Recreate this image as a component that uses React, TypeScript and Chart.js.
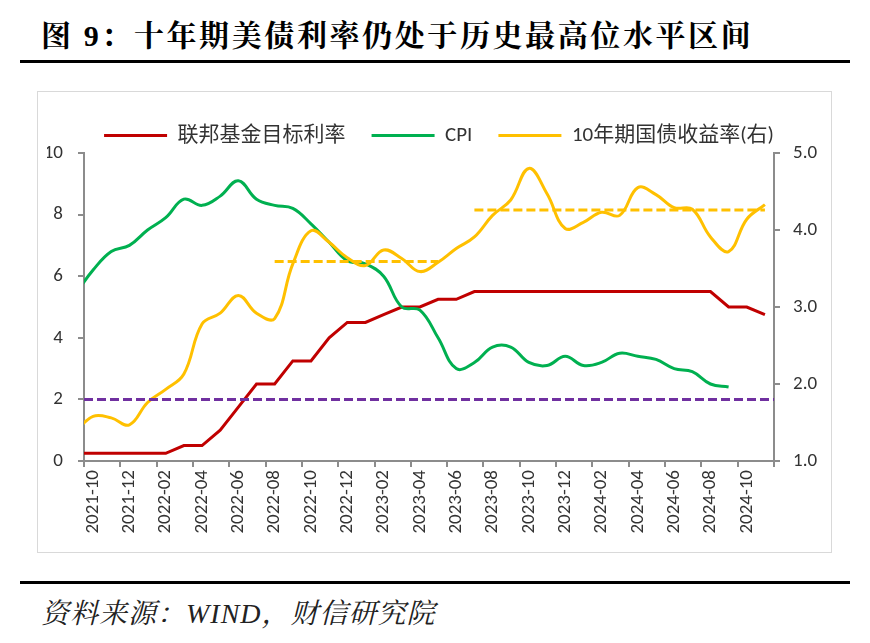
import React, { useEffect, useRef } from "react";
import { Chart, registerables } from "chart.js";

Chart.register(...registerables);

// Months (first month sits just left of the axis start and is clipped)
const months = [
  "2021-09", "2021-10", "2021-11", "2021-12",
  "2022-01", "2022-02", "2022-03", "2022-04", "2022-05", "2022-06",
  "2022-07", "2022-08", "2022-09", "2022-10", "2022-11", "2022-12",
  "2023-01", "2023-02", "2023-03", "2023-04", "2023-05", "2023-06",
  "2023-07", "2023-08", "2023-09", "2023-10", "2023-11", "2023-12",
  "2024-01", "2024-02", "2024-03", "2024-04", "2024-05", "2024-06",
  "2024-07", "2024-08", "2024-09", "2024-10", "2024-11",
];

// 联邦基金目标利率 (upper bound, %)
const fedRate = [
  0.25, 0.25, 0.25, 0.25,
  0.25, 0.25, 0.5, 0.5, 1.0, 1.75,
  2.5, 2.5, 3.25, 3.25, 4.0, 4.5,
  4.5, 4.75, 5.0, 5.0, 5.25, 5.25,
  5.5, 5.5, 5.5, 5.5, 5.5, 5.5,
  5.5, 5.5, 5.5, 5.5, 5.5, 5.5,
  5.5, 5.5, 5.0, 5.0, 4.75,
];

// CPI (% y/y)
const cpi = [
  5.4, 6.2, 6.8, 7.0,
  7.5, 7.9, 8.5, 8.3, 8.6, 9.1,
  8.5, 8.3, 8.2, 7.7, 7.1, 6.5,
  6.4, 6.0, 5.0, 4.9, 4.0, 3.0,
  3.2, 3.7, 3.7, 3.2, 3.1, 3.4,
  3.1, 3.2, 3.5, 3.4, 3.3, 3.0,
  2.9, 2.5, 2.4, null, null,
];

// 10年期国债收益率 (%, right axis)
const ust10y = [
  1.37, 1.58, 1.56, 1.47,
  1.76, 1.93, 2.13, 2.78, 2.92, 3.15,
  2.92, 2.85, 3.56, 3.99, 3.84, 3.64,
  3.54, 3.74, 3.63, 3.46, 3.58, 3.76,
  3.91, 4.19, 4.39, 4.80, 4.47, 4.02,
  4.10, 4.23, 4.19, 4.55, 4.46, 4.29,
  4.27, 3.91, 3.72, 4.14, 4.33,
];

// Reference levels
const inflationTarget = 2.0;
const yieldLevelA = { from: "2022-08", to: "2023-05", level: 3.59 };
const yieldLevelB = { from: "2023-07", to: "2024-11", level: 4.26 };

const legendLabels = ["联邦基金目标利率", "CPI", "10年期国债收益率(右)"];

const RED = "#C00000";
const GREEN = "#00B050";
const YELLOW = "#FFC000";
const PURPLE = "#7030A0";
const AXIS = "#8C8C8C";
const TEXT = "#333333";
const FONT = "Carlito, Lato, 'Noto Sans CJK SC', sans-serif";

const pos = (m: string) => months.indexOf(m) - 0.5;
const X_MIN = 0;
const X_MAX = months.length - 1;

export default function App() {
  const ref = useRef<HTMLCanvasElement>(null);

  useEffect(() => {
    const canvas = ref.current;
    if (!canvas) return;
    const series = (arr: (number | null)[]) =>
      arr.map((v, i) => ({ x: pos(months[i]), y: v }));

    const labelTicks = months
      .map((m, i) => (i % 2 === 1 ? pos(m) : null))
      .filter((v) => v !== null) as number[];
    const markTicks: number[] = [];
    for (let v = X_MIN; v <= X_MAX; v += 2) markTicks.push(v);

    const legendNudge = {
      id: "legendNudge",
      afterLayout(chart: any) {
        const l = chart.legend;
        if (l) {
          l.top += 3;
          l.bottom += 3;
        }
      },
    };

    const chart = new Chart(canvas, {
      type: "line",
      data: {
        datasets: [
          {
            label: legendLabels[0],
            data: series(fedRate),
            borderColor: RED,
            backgroundColor: RED,
            borderWidth: 3,
            tension: 0,
            pointRadius: 0,
            yAxisID: "y",
            order: 3,
          },
          {
            label: legendLabels[1],
            data: series(cpi),
            borderColor: GREEN,
            backgroundColor: GREEN,
            borderWidth: 3,
            tension: 0.4,
            pointRadius: 0,
            yAxisID: "y",
            order: 2,
          },
          {
            label: legendLabels[2],
            data: series(ust10y),
            borderColor: YELLOW,
            backgroundColor: YELLOW,
            borderWidth: 3,
            tension: 0.4,
            pointRadius: 0,
            yAxisID: "y1",
            order: 1,
          },
          {
            label: "target",
            data: [
              { x: X_MIN, y: inflationTarget },
              { x: X_MAX, y: inflationTarget },
            ],
            borderColor: PURPLE,
            borderWidth: 3,
            borderDash: [9, 4],
            pointRadius: 0,
            yAxisID: "y",
            order: 0,
          },
          {
            label: "levelA",
            data: [
              { x: pos(yieldLevelA.from), y: yieldLevelA.level },
              { x: pos(yieldLevelA.to), y: yieldLevelA.level },
            ],
            borderColor: YELLOW,
            borderWidth: 3,
            borderDash: [9, 4],
            pointRadius: 0,
            yAxisID: "y1",
            order: 0,
          },
          {
            label: "levelB",
            data: [
              { x: pos(yieldLevelB.from), y: yieldLevelB.level },
              { x: pos(yieldLevelB.to), y: yieldLevelB.level },
            ],
            borderColor: YELLOW,
            borderWidth: 3,
            borderDash: [9, 4],
            pointRadius: 0,
            yAxisID: "y1",
            order: 0,
          },
        ],
      },
      options: {
        animation: false,
        responsive: false,
        maintainAspectRatio: false,
        layout: { padding: { top: 4, left: 9, right: 0, bottom: 0 } },
        plugins: {
          tooltip: { enabled: false },
          legend: {
            position: "top",
            align: "center",
            labels: {
              boxWidth: 63,
              boxHeight: 3,
              padding: 26,
              color: TEXT,
              font: { size: 21, family: FONT },
              generateLabels: (c: any) =>
                c.data.datasets
                  .map((ds: any, i: number) => ({
                    text: ds.label,
                    fillStyle: ds.borderColor,
                    strokeStyle: ds.borderColor,
                    lineWidth: 0,
                    hidden: false,
                    datasetIndex: i,
                    fontColor: TEXT,
                  }))
                  .filter((it: any) => legendLabels.includes(it.text)),
            },
          },
        },
        scales: {
          x: {
            type: "linear",
            position: "bottom",
            weight: 0,
            min: X_MIN,
            max: X_MAX,
            afterBuildTicks: (s: any) => {
              s.ticks = markTicks.map((v) => ({ value: v }));
            },
            ticks: { display: false },
            grid: {
              drawOnChartArea: false,
              drawTicks: true,
              tickLength: 6,
              color: AXIS,
              lineWidth: 2,
            },
            border: { color: AXIS, width: 2 },
            afterFit: (s: any) => {
              s.height = 6;
            },
          },
          xl: {
            type: "linear",
            position: "bottom",
            weight: 1,
            min: X_MIN,
            max: X_MAX,
            afterBuildTicks: (s: any) => {
              s.ticks = labelTicks.map((v) => ({ value: v }));
            },
            ticks: {
              autoSkip: false,
              minRotation: 90,
              maxRotation: 90,
              padding: 3,
              color: TEXT,
              font: { size: 19, family: FONT },
              callback: (v: any) => months[Math.round(Number(v) + 0.5)],
            },
            grid: { display: false, drawTicks: false },
            border: { display: false },
            afterFit: (s: any) => {
              s.height = 85;
            },
          },
          y: {
            type: "linear",
            position: "left",
            min: 0,
            max: 10,
            ticks: {
              stepSize: 2,
              padding: 15,
              color: TEXT,
              font: { size: 19, family: FONT },
            },
            grid: {
              drawOnChartArea: false,
              drawTicks: true,
              tickLength: 6,
              color: AXIS,
              lineWidth: 2,
            },
            border: { color: AXIS, width: 2 },
            afterFit: (s: any) => {
              s.width = 37;
            },
          },
          y1: {
            type: "linear",
            position: "right",
            min: 1,
            max: 5,
            ticks: {
              stepSize: 1,
              padding: 13,
              color: TEXT,
              font: { size: 19, family: FONT },
              callback: (v: any) => Number(v).toFixed(1),
            },
            grid: {
              drawOnChartArea: false,
              drawTicks: true,
              tickLength: 6,
              color: AXIS,
              lineWidth: 2,
            },
            border: { color: AXIS, width: 2 },
            afterFit: (s: any) => {
              s.width = 57;
            },
          },
        },
      },
      plugins: [legendNudge],
    } as any);

    return () => chart.destroy();
  }, []);

  return (
    <div
      style={{
        position: "absolute",
        left: 0,
        top: 0,
        width: 870,
        height: 643,
        background: "#fff",
        overflow: "hidden",
      }}
    >
      <div
        style={{
          position: "absolute",
          left: 41,
          top: 20,
          fontSize: 30,
          lineHeight: "32px",
          fontWeight: 700,
          letterSpacing: "2.6px",
          color: "#000",
          whiteSpace: "nowrap",
          fontFamily:
            "'Liberation Serif', 'Noto Serif CJK SC', 'Noto Sans CJK SC', serif",
        }}
      >
        图 9：十年期美债利率仍处于历史最高位水平区间
      </div>
      <div
        style={{
          position: "absolute",
          left: 20,
          top: 60,
          width: 830,
          height: 3,
          background: "#000",
        }}
      />
      <div
        style={{
          position: "absolute",
          left: 37,
          top: 91,
          width: 793,
          height: 460,
          border: "1px solid #D9D9D9",
        }}
      >
        <canvas ref={ref} width={793} height={460} style={{ display: "block" }} />
      </div>
      <div
        style={{
          position: "absolute",
          left: 20,
          top: 581,
          width: 830,
          height: 3,
          background: "#000",
        }}
      />
      <div
        style={{
          position: "absolute",
          left: 41,
          top: 599,
          fontSize: 28,
          lineHeight: "30px",
          fontStyle: "italic",
          letterSpacing: "1px",
          color: "#222",
          whiteSpace: "nowrap",
          fontFamily:
            "'Liberation Serif', 'Noto Serif CJK SC', 'Noto Sans CJK SC', serif",
        }}
      >
        资料来源：WIND，财信研究院
      </div>
    </div>
  );
}
